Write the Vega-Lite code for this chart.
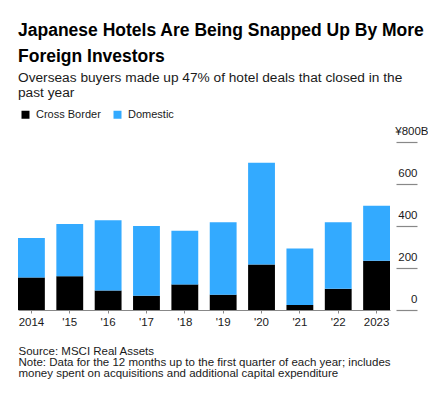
{
  "$schema": "https://vega.github.io/schema/vega-lite/v6.json",
  "width": 378,
  "height": 168,
  "padding": {"left": 17, "top": 22, "right": 0, "bottom": 0},
  "background": "white",
  "title": {
    "text": ["Japanese Hotels Are Being Snapped Up By More", "Foreign Investors"],
    "subtitle": ["Overseas buyers made up 47% of hotel deals that closed in the", "past year"],
    "anchor": "start",
    "frame": "group",
    "font": "Liberation Sans",
    "fontSize": 17.5,
    "fontWeight": "bold",
    "lineHeight": 26,
    "color": "#000000",
    "subtitleFont": "Liberation Sans",
    "subtitleFontSize": 13.7,
    "subtitleLineHeight": 15.7,
    "subtitleColor": "#1a1a1a",
    "subtitlePadding": 5,
    "offset": 9
  },
  "data": {
    "values": [
      {"year": "2014", "type": "Cross Border", "value": 155},
      {"year": "2014", "type": "Domestic", "value": 188},
      {"year": "'15", "type": "Cross Border", "value": 161},
      {"year": "'15", "type": "Domestic", "value": 249},
      {"year": "'16", "type": "Cross Border", "value": 93},
      {"year": "'16", "type": "Domestic", "value": 334},
      {"year": "'17", "type": "Cross Border", "value": 68},
      {"year": "'17", "type": "Domestic", "value": 332},
      {"year": "'18", "type": "Cross Border", "value": 122},
      {"year": "'18", "type": "Domestic", "value": 255},
      {"year": "'19", "type": "Cross Border", "value": 73},
      {"year": "'19", "type": "Domestic", "value": 345},
      {"year": "'20", "type": "Cross Border", "value": 217},
      {"year": "'20", "type": "Domestic", "value": 484},
      {"year": "'21", "type": "Cross Border", "value": 24},
      {"year": "'21", "type": "Domestic", "value": 269},
      {"year": "'22", "type": "Cross Border", "value": 101},
      {"year": "'22", "type": "Domestic", "value": 317},
      {"year": "2023", "type": "Cross Border", "value": 234},
      {"year": "2023", "type": "Domestic", "value": 263}
    ]
  },
  "mark": {"type": "bar", "strokeWidth": 0},
  "encoding": {
    "x": {
      "field": "year",
      "type": "nominal",
      "sort": null,
      "scale": {"range": [0, 372], "paddingInner": 0.3, "paddingOuter": 0},
      "axis": {
        "title": ["Source: MSCI Real Assets", "Note: Data for the 12 months up to the first quarter of each year; includes", "money spent on acquisitions and additional capital expenditure"],
        "titleAnchor": "start",
        "titleAlign": "left",
        "titleBaseline": "top",
        "titleFont": "Liberation Sans",
        "titleFontSize": 11.5,
        "titleFontWeight": "normal",
        "titleLineHeight": 11.2,
        "titleColor": "#1a1a1a",
        "titlePadding": 18,
        "labelAngle": 0,
        "labelFont": "Liberation Sans",
        "labelFontSize": 11.5,
        "labelColor": "#1a1a1a",
        "labelPadding": 3,
        "tickSize": 3,
        "tickColor": "#888888",
        "domainColor": "#888888",
        "domainWidth": 1.2
      }
    },
    "y": {
      "field": "value",
      "type": "quantitative",
      "aggregate": "sum",
      "stack": "zero",
      "scale": {"domain": [0, 800], "nice": false},
      "axis": {
        "orient": "right",
        "title": null,
        "values": [0, 200, 400, 600, 800],
        "labelExpr": "datum.value == 800 ? '¥800B' : datum.label",
        "domain": false,
        "grid": false,
        "tickSize": 21,
        "tickColor": "#888888",
        "tickWidth": 1.2,
        "labelAlign": "right",
        "labelBaseline": "alphabetic",
        "labelOffset": -8,
        "labelPadding": {"condition": {"test": "datum.value == 800", "value": 11}, "value": 0},
        "labelFont": "Liberation Sans",
        "labelFontSize": 11.5,
        "labelColor": "#1a1a1a"
      }
    },
    "color": {
      "field": "type",
      "type": "nominal",
      "scale": {"domain": ["Cross Border", "Domestic"], "range": ["#000000", "#33aaff"]},
      "legend": {
        "title": null,
        "orient": "none",
        "legendX": 2,
        "legendY": -33,
        "direction": "horizontal",
        "symbolType": "square",
        "symbolSize": 64,
        "symbolStrokeWidth": 0,
        "labelFont": "Liberation Sans",
        "labelFontSize": 11,
        "labelColor": "#1a1a1a",
        "labelOffset": 5,
        "columnPadding": 11
      }
    },
    "order": {"field": "type", "sort": "ascending"}
  },
  "config": {"view": {"stroke": null}}
}
